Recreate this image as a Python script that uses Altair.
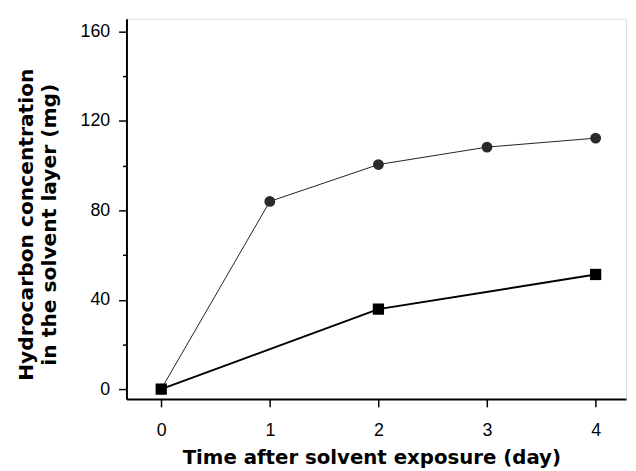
import altair as alt
import pandas as pd

days_circle = [0, 1, 2, 3, 4]
conc_circle = [0, 84, 100.5, 108.3, 112.3]
days_square = [0, 2, 4]
conc_square = [0, 35.8, 51.3]

y_ticks = [0, 20, 40, 60, 80, 100, 120, 140, 160]
x_ticks = [0, 1, 2, 3, 4]

df_c = pd.DataFrame({"day": days_circle, "conc": conc_circle})
df_s = pd.DataFrame({"day": days_square, "conc": conc_square})

FONT = "Liberation Sans"
TFONT = "DejaVu Sans"

x_enc = alt.X(
    "day:Q",
    scale=alt.Scale(domain=[-0.32, 4.28], nice=False, zero=False),
    axis=alt.Axis(
        values=x_ticks,
        format="d",
        title="Time after solvent exposure (day)",
        titleFontSize=20,
        titleFont=TFONT,
        titleFontWeight="bold",
        titleColor="black",
        titlePadding=8,
        titleX=248,
        labelFont=FONT,
        labelFontSize=18,
        labelColor="black",
        labelPadding=15,
        tickSize=8,
        tickWidth=1.5,
        tickColor="black",
        domainColor="black",
        domainWidth=2,
        grid=False,
        labelFlush=False,
    ),
)
y_enc = alt.Y(
    "conc:Q",
    scale=alt.Scale(domain=[-4.4, 165.7], nice=False, zero=False),
    axis=alt.Axis(
        values=y_ticks,
        labelExpr="datum.value % 40 === 0 ? datum.label : ''",
        title=["Hydrocarbon concentration", "in the solvent layer (mg)"],
        titleFontSize=20.5,
        titleFont=TFONT,
        titleFontWeight="bold",
        titleColor="black",
        titleLineHeight=23,
        titleAngle=270,
        titleAlign="center",
        titleBaseline="alphabetic",
        titleX=-95,
        titleY=208,
        labelFont=FONT,
        labelFontSize=18,
        labelColor="black",
        labelPadding=9,
        tickSize={"condition": {"test": "datum.value % 40 === 0", "value": 8}, "value": 4},
        tickWidth=1.5,
        tickColor="black",
        domainColor="black",
        domainWidth=2,
        grid=False,
        labelFlush=False,
    ),
)

line_c = alt.Chart(df_c).mark_line(color="#222222", strokeWidth=1).encode(x=x_enc, y=y_enc)
pts_c = alt.Chart(df_c).mark_point(
    shape="circle", filled=True, size=120, color="#2a2a2a", opacity=1
).encode(x="day:Q", y="conc:Q")
line_s = alt.Chart(df_s).mark_line(color="black", strokeWidth=2).encode(x="day:Q", y="conc:Q")
pts_s = alt.Chart(df_s).mark_point(
    shape="square", filled=True, size=130, color="black", opacity=1
).encode(x="day:Q", y="conc:Q")

chart = (
    alt.layer(line_c, line_s, pts_c, pts_s)
    .properties(
        width=506,
        height=385,
        autosize=alt.AutoSizeParams(type="none"),
        padding={"left": 120, "top": 8, "right": 2, "bottom": 70},
    )
    .configure_view(stroke="black", strokeWidth=1.5)
    .configure(background="white")
)

chart.save("out.html", embed_options={"renderer": "svg", "actions": False})
